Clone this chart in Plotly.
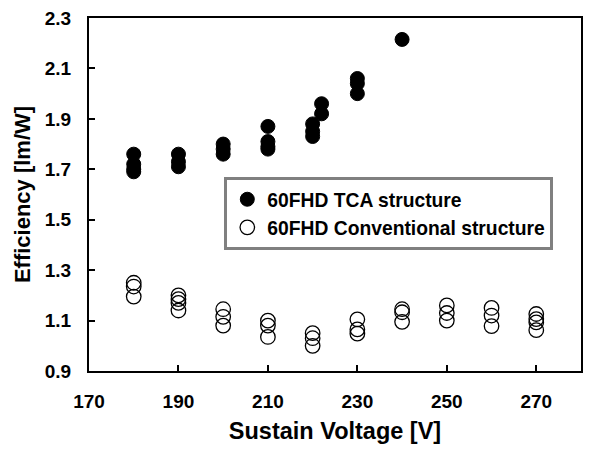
import plotly.graph_objects as go

# Data
tca_voltage = [180, 180, 180, 180, 190, 190, 190, 200, 200, 200,
               210, 210, 210, 210, 220, 220, 220, 222, 222, 230, 230, 230, 240]
tca_eff = [1.76, 1.72, 1.70, 1.69, 1.76, 1.73, 1.71, 1.80, 1.78, 1.76,
           1.87, 1.81, 1.79, 1.78, 1.88, 1.85, 1.83, 1.96, 1.92, 2.06, 2.04, 2.00, 2.215]

conv_voltage = [180, 180, 180, 190, 190, 190, 190, 200, 200, 200,
                210, 210, 210, 220, 220, 220, 230, 230, 230,
                240, 240, 240, 250, 250, 250, 260, 260, 260, 270, 270, 270, 270]
conv_eff = [1.25, 1.235, 1.195, 1.20, 1.185, 1.17, 1.14, 1.145, 1.115, 1.08,
            1.10, 1.08, 1.035, 1.05, 1.03, 1.00, 1.105, 1.065, 1.048,
            1.145, 1.133, 1.095, 1.16, 1.13, 1.10, 1.15, 1.12, 1.078,
            1.126, 1.106, 1.093, 1.062]

x_ticks = [170, 190, 210, 230, 250, 270]
y_ticks = [0.9, 1.1, 1.3, 1.5, 1.7, 1.9, 2.1, 2.3]

FONT = "Arial, Liberation Sans, sans-serif"

fig = go.Figure()
fig.add_trace(go.Scatter(
    x=tca_voltage, y=tca_eff, mode="markers", name="<b>60FHD TCA structure</b>",
    marker=dict(symbol="circle", size=14, color="black", line=dict(color="black", width=1)),
))
fig.add_trace(go.Scatter(
    x=conv_voltage, y=conv_eff, mode="markers", name="<b>60FHD Conventional structure</b>",
    marker=dict(symbol="circle-open", size=14.5, color="black", line=dict(color="black", width=1.3)),
))

fig.update_layout(
    width=591, height=454,
    margin=dict(l=89, r=8, t=14, b=83),
    paper_bgcolor="white", plot_bgcolor="white",
    font=dict(family=FONT, size=19, color="black"),
    showlegend=True,
    legend=dict(
        x=0.275, y=0.549, xanchor="left", yanchor="top",
        bgcolor="white", bordercolor="#808080", borderwidth=3,
        font=dict(family=FONT, size=19.3, color="black"),
        tracegroupgap=0,
    ),
    xaxis=dict(
        range=[170, 280], tickvals=x_ticks, ticktext=[f"<b>{v}</b>" for v in x_ticks],
        ticks="inside", ticklen=6, tickwidth=2, tickcolor="black",
        showline=True, linewidth=2, linecolor="black", mirror=True,
        showgrid=False, zeroline=False, ticklabelstandoff=12,
        title=dict(text="<b>Sustain Voltage [V]</b>", font=dict(size=23.5), standoff=12),
    ),
    yaxis=dict(
        range=[0.9, 2.3], tickvals=y_ticks, ticktext=[f"<b>{v:.1f}</b>" for v in y_ticks],
        ticks="inside", ticklen=6, tickwidth=2, tickcolor="black",
        showline=True, linewidth=2, linecolor="black", mirror=True,
        showgrid=False, zeroline=False, ticklabelstandoff=12,
        title=dict(text="<b>Efficiency [lm/W]</b>", font=dict(size=22), standoff=8),
    ),
)

fig.write_html("out.html")
